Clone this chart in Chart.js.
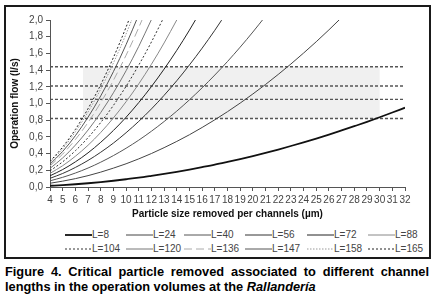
<!DOCTYPE html>
<html>
<head>
<meta charset="utf-8">
<script src="https://cdn.jsdelivr.net/npm/chart.js@4.4.1/dist/chart.umd.min.js"></script>
<style>
  body { margin: 0; width: 434px; height: 301px; background: #fff; position: relative; overflow: hidden; }
  #frame { position: absolute; left: 4px; top: 5px; width: 427px; height: 254px; box-sizing: border-box; border: 2px solid #1a1a1a; }
  #box { position: absolute; left: 0; top: 0; width: 434px; height: 226px; }
  #legend { position: absolute; left: 0; top: 0; font: 10px "Liberation Sans", Arial, sans-serif; color: #444; }
  .item { position: absolute; height: 12px; line-height: 12px; white-space: nowrap; }
  .item svg { vertical-align: middle; margin-right: 0; }
  #caption { position: absolute; left: 5px; top: 264px; width: 424px; font: bold 12.8px "Liberation Sans", Arial, sans-serif; line-height: 15px; color: #000; text-align: justify; }
</style>
</head>
<body>
<div id="frame"></div>
<div id="box"><canvas id="chart"></canvas></div>
<div id="legend"></div>
<div id="caption">Figure 4. Critical particle removed associated to different channel lengths in the operation volumes at the <i>Rallandería</i></div>
<script>
// particle size (µm) on x, operation flow (l/s) on y
var sizes = [4,5,6,7,8,9,10,11,12,13,14,15,16,17,18,19,20,21,22,23,24,25,26,27,28,29,30,31,32]

var L8   = [0.015,0.023,0.033,0.045,0.059,0.075,0.093,0.112,0.134,0.157,0.182,0.209,0.238,0.268,0.301,0.335,0.371,0.409,0.449,0.491,0.535,0.580,0.627,0.677,0.728,0.780,0.835,0.892,0.950]
var L24  = [0.045,0.070,0.100,0.136,0.178,0.226,0.278,0.337,0.401,0.471,0.546,0.626,0.713,0.805,0.902,1.005,1.114,1.228,1.348,1.473,1.604,1.740,1.882,2.030]
var L40  = [0.074,0.116,0.167,0.227,0.297,0.376,0.464,0.561,0.668,0.784,0.909,1.044,1.188,1.341,1.503,1.675,1.856,2.046]
var L56  = [0.104,0.162,0.234,0.318,0.416,0.526,0.650,0.786,0.935,1.098,1.273,1.462,1.663,1.877,2.105]
var L72  = [0.134,0.209,0.301,0.409,0.535,0.677,0.835,1.011,1.203,1.412,1.637,1.879,2.138]
var L88  = [0.163,0.255,0.368,0.500,0.653,0.827,1.021,1.235,1.470,1.725,2.001]
var L104 = [0.193,0.302,0.434,0.591,0.772,0.977,1.206,1.460,1.737,2.039]
var L120 = [0.223,0.348,0.501,0.682,0.891,1.128,1.392,1.684,2.005]
var L136 = [0.252,0.394,0.568,0.773,1.010,1.278,1.578,1.909,2.272]
var L147 = [0.273,0.426,0.614,0.836,1.091,1.381,1.705,2.063]
var L158 = [0.293,0.458,0.660,0.898,1.173,1.485,1.833,2.218]
var L165 = [0.306,0.479,0.689,0.938,1.225,1.550,1.914,2.316]

var seriesNames = ['L=8','L=24','L=40','L=56','L=72','L=88','L=104','L=120','L=136','L=147','L=158','L=165']
var seriesValues = [L8,L24,L40,L56,L72,L88,L104,L120,L136,L147,L158,L165]

// horizontal operation flows and the shaded range
var flowLines = [1.44, 1.21, 1.05, 0.82]
var bandX = [6.6, 30]
var bandY = [0.82, 1.44]

var yTicks = [0,0.2,0.4,0.6,0.8,1.0,1.2,1.4,1.6,1.8,2.0]

var styles = [
  {c:'#111', w:1.8, d:[]},
  {c:'#444', w:1, d:[]},
  {c:'#555', w:1, d:[]},
  {c:'#333', w:1, d:[]},
  {c:'#222', w:1, d:[]},
  {c:'#888', w:1, d:[]},
  {c:'#333', w:1, d:[2,2]},
  {c:'#777', w:1, d:[]},
  {c:'#aaa', w:1, d:[8,4]},
  {c:'#555', w:1, d:[]},
  {c:'#999', w:1, d:[1.5,1.5]},
  {c:'#222', w:1, d:[2,2]}
]

function pts(vals){
  return vals.map(function(v,i){ return {x: sizes[i], y: v} })
}

var datasets = seriesValues.map(function(vals,i){
  return {
    label: seriesNames[i],
    data: pts(vals),
    borderColor: styles[i].c,
    borderWidth: styles[i].w,
    borderDash: styles[i].d,
    pointRadius: 0,
    cubicInterpolationMode: 'monotone',
    fill: false
  }
})
flowLines.forEach(function(f){
  datasets.push({
    label: 'Q=' + f,
    data: [{x: sizes[0], y: f}, {x: sizes[sizes.length-1], y: f}],
    borderColor: '#555',
    borderWidth: 1.4,
    borderDash: [3,2],
    pointRadius: 0
  })
})

var bandPlugin = {
  id: 'band',
  beforeDatasetsDraw: function(chart){
    var x = chart.scales.x, y = chart.scales.y, ctx = chart.ctx
    var x0 = x.getPixelForValue(bandX[0]), x1 = x.getPixelForValue(bandX[1])
    var y0 = y.getPixelForValue(bandY[1]), y1 = y.getPixelForValue(bandY[0])
    ctx.save()
    ctx.fillStyle = '#f0f0f0'
    ctx.fillRect(x0, y0, x1 - x0, y1 - y0)
    ctx.restore()
  }
}

var tickFont = {family: '"Liberation Sans", Arial, sans-serif', size: 10}
var titleFont = {family: '"Liberation Sans", Arial, sans-serif', size: 10, weight: 'bold'}

var config = {
  type: 'line',
  data: { datasets: datasets },
  options: {
    responsive: true,
    maintainAspectRatio: false,
    animation: false,
    layout: { padding: { top: 20, right: 29, bottom: 0, left: 0 } },
    plugins: { legend: { display: false }, tooltip: { enabled: false } },
    scales: {
      x: {
        type: 'linear',
        min: 4, max: 32,
        ticks: { stepSize: 1, autoSkip: false, maxRotation: 0, font: tickFont, color: '#444', padding: 3 },
        grid: { drawOnChartArea: false, tickLength: 4, color: '#555' },
        border: { color: '#555' },
        title: { display: true, text: 'Particle size removed per channels (µm)', font: titleFont, color: '#111', padding: { top: 0, bottom: 6 } },
        afterFit: function(s){ s.height = 39 }
      },
      y: {
        min: 0, max: 2,
        afterBuildTicks: function(s){ s.ticks = yTicks.map(function(v){ return {value: v} }) },
        ticks: { font: tickFont, color: '#444', padding: 3, callback: function(v){ return v.toFixed(1).replace('.', ',') } },
        grid: { drawOnChartArea: false, tickLength: 4, color: '#555' },
        border: { color: '#555' },
        title: { display: true, text: 'Operation flow (l/s)', font: titleFont, color: '#111', padding: { top: 9, bottom: 0 } },
        afterFit: function(s){ s.width = 50 }
      }
    }
  },
  plugins: [bandPlugin]
}

var chart = document.getElementById('chart')
var myChart = new Chart(chart, config)

// legend: 2 rows x 6 columns like the original
var colX = [65, 126, 184, 245, 307, 368]
var rowY = [229, 243]
var legend = document.getElementById('legend')
seriesNames.forEach(function(name, i){
  var s = styles[i]
  var div = document.createElement('div')
  div.className = 'item'
  div.style.left = colX[i % 6] + 'px'
  div.style.top = rowY[Math.floor(i / 6)] + 'px'
  div.innerHTML = '<svg width="27" height="6"><line x1="0" y1="3" x2="27" y2="3" stroke="' + s.c +
    '" stroke-width="' + s.w + '"' + (s.d.length ? ' stroke-dasharray="' + s.d.join(',') + '"' : '') + '/></svg>' + name
  legend.appendChild(div)
})
</script>
</body>
</html>
